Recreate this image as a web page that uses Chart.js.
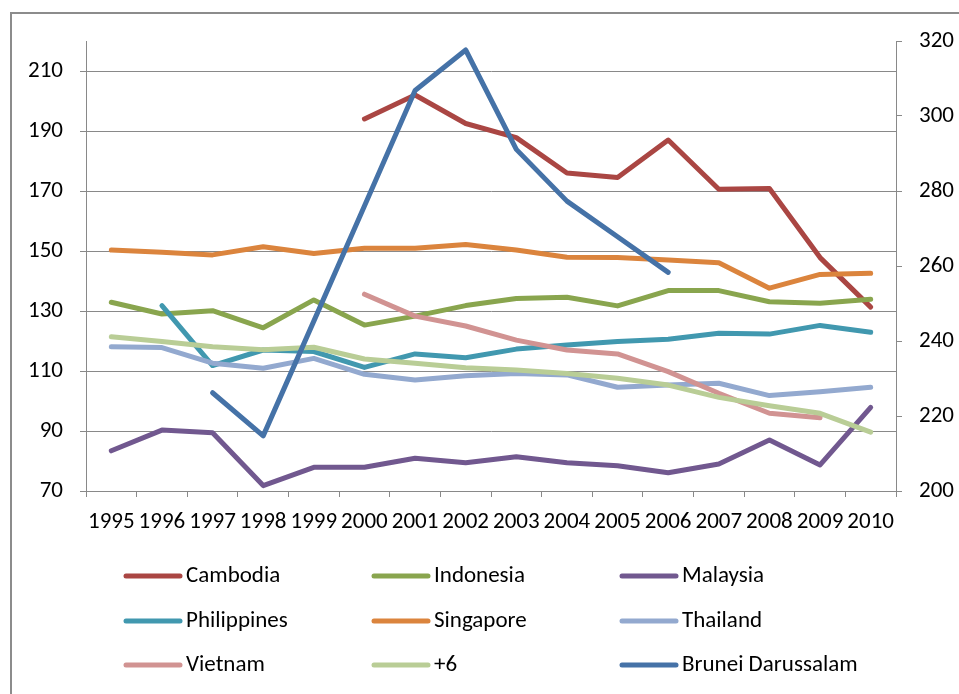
<!DOCTYPE html>
<html>
<head>
<meta charset="utf-8">
<script src="https://cdn.jsdelivr.net/npm/chart.js@4/dist/chart.umd.min.js"></script>
<style>
  html, body { margin: 0; padding: 0; background: #fff; }
  #wrap { position: relative; width: 959px; height: 694px; overflow: hidden; }
  #frame { position: absolute; left: 10px; top: 12px; width: 1200px; height: 1000px;
           border: 2px solid #8c8c8c; box-sizing: border-box; pointer-events: none; }
  canvas { position: absolute; left: 0; top: 0; }
</style>
</head>
<body>
<div id="wrap">
  <canvas id="chart" width="959" height="694"></canvas>
  <div id="frame"></div>
</div>
<script>
// categories
const years = ['1995','1996','1997','1998','1999','2000','2001','2002',
               '2003','2004','2005','2006','2007','2008','2009','2010'];

// series (left axis)
const cambodia    = [null, null, null, null, null, 194.0, 202.0, 192.5, 187.8, 176.0, 174.5, 187.0, 170.6, 170.8, 147.8, 131.3];
const indonesia   = [132.9, 129.0, 130.1, 124.4, 133.7, 125.3, 128.3, 131.8, 134.2, 134.6, 131.7, 136.8, 136.8, 133.1, 132.6, 133.9];
const malaysia    = [83.4, 90.3, 89.4, 71.8, 77.9, 77.9, 80.9, 79.4, 81.4, 79.4, 78.4, 76.1, 79.0, 87.0, 78.7, 97.9];
const philippines = [null, 131.8, 111.8, 117.0, 116.5, 111.2, 115.7, 114.4, 117.3, 118.7, 119.8, 120.6, 122.6, 122.3, 125.2, 122.9];
const singapore   = [150.3, 149.6, 148.7, 151.4, 149.2, 150.9, 150.9, 152.2, 150.3, 147.9, 147.8, 147.0, 146.1, 137.6, 142.2, 142.6];
const thailand    = [118.1, 117.8, 112.6, 110.9, 114.2, 108.9, 107.0, 108.4, 109.2, 108.7, 104.6, 105.3, 105.9, 101.8, 103.1, 104.6];
const vietnam     = [null, null, null, null, null, 135.6, 128.3, 125.0, 120.3, 117.0, 115.7, 109.8, 102.6, 95.9, 94.4, null];
const plus6       = [121.4, 119.8, 118.1, 117.1, 117.9, 114.0, 112.6, 111.1, 110.3, 109.2, 107.6, 105.3, 101.2, 98.4, 95.9, 89.6];
// series (right axis)
const brunei      = [null, null, 226.2, 214.7, 245.3, 276.0, 306.8, 317.6, 291.1, 277.3, 267.8, 258.3, null, null, null, null];

// tick labels
const leftTicks  = [70, 90, 110, 130, 150, 170, 190, 210];
const rightTicks = [200, 220, 240, 260, 280, 300, 320];
const leftMin = 70, leftMax = 220;
const rightMin = 200, rightMax = 320;

const series = [
  { label: 'Cambodia',          data: cambodia,    color: '#aa4643', axis: 'y'  },
  { label: 'Indonesia',         data: indonesia,   color: '#89a54e', axis: 'y'  },
  { label: 'Malaysia',          data: malaysia,    color: '#71588f', axis: 'y'  },
  { label: 'Philippines',       data: philippines, color: '#4198af', axis: 'y'  },
  { label: 'Singapore',         data: singapore,   color: '#db843d', axis: 'y'  },
  { label: 'Thailand',          data: thailand,    color: '#93a9cf', axis: 'y'  },
  { label: 'Vietnam',           data: vietnam,     color: '#d19392', axis: 'y'  },
  { label: '+6',                data: plus6,       color: '#b9cd96', axis: 'y'  },
  { label: 'Brunei Darussalam', data: brunei,      color: '#4572a7', axis: 'y2' }
];

const TICK_FONT = { family: 'Carlito, "Open Sans", sans-serif', size: 23 };
const LEGEND_FONT = '23px Carlito, "Open Sans", sans-serif';
const GRID = '#898989';

// legend drawn as a 3-column grid under the plot
const gridLegend = {
  id: 'gridLegend',
  afterDraw(chart) {
    const ctx = chart.ctx;
    const colX = [126, 374, 622];
    const rowY = [576, 621, 665];
    ctx.save();
    ctx.font = LEGEND_FONT;
    ctx.textBaseline = 'middle';
    ctx.fillStyle = '#000';
    chart.data.datasets.forEach((ds, i) => {
      const x = colX[i % 3], y = rowY[Math.floor(i / 3)];
      ctx.strokeStyle = ds.borderColor;
      ctx.lineWidth = 5;
      ctx.lineCap = 'round';
      ctx.beginPath();
      ctx.moveTo(x, y);
      ctx.lineTo(x + 54, y);
      ctx.stroke();
      ctx.fillText(ds.label, x + 60, y);
    });
    ctx.restore();
  }
};

new Chart(document.getElementById('chart'), {
  type: 'line',
  data: {
    labels: years,
    datasets: series.map((s, i) => ({
      label: s.label,
      data: s.data,
      yAxisID: s.axis,
      borderColor: s.color,
      backgroundColor: s.color,
      borderWidth: 5,
      borderCapStyle: 'round',
      borderJoinStyle: 'round',
      pointRadius: 0,
      tension: 0,
      spanGaps: false,
      order: series.length - i
    }))
  },
  options: {
    responsive: false,
    animation: false,
    devicePixelRatio: 1,
    layout: { padding: { top: 41, left: 0, right: 0, bottom: 0 } },
    plugins: { legend: { display: false }, tooltip: { enabled: false } },
    scales: {
      x: {
        offset: true,
        grid: { drawOnChartArea: false, drawTicks: true, tickLength: 6, color: GRID, offset: true },
        border: { display: true, color: GRID, width: 1 },
        ticks: { color: '#000', font: TICK_FONT, maxRotation: 0, autoSkip: false, padding: 11 },
        afterFit: (scale) => { scale.height = 203; }
      },
      y: {
        position: 'left',
        min: leftMin, max: leftMax,
        grid: { color: GRID, tickLength: 6, drawTicks: true },
        border: { display: true, color: GRID, width: 1 },
        ticks: { color: '#000', font: TICK_FONT, padding: 17 },
        afterBuildTicks: (scale) => { scale.ticks = leftTicks.map(v => ({ value: v })); },
        afterFit: (scale) => { scale.width = 86; }
      },
      y2: {
        position: 'right',
        min: rightMin, max: rightMax,
        grid: { drawOnChartArea: false, color: GRID, tickLength: 6, drawTicks: true },
        border: { display: true, color: GRID, width: 1 },
        ticks: { color: '#000', font: TICK_FONT, padding: 17 },
        afterBuildTicks: (scale) => { scale.ticks = rightTicks.map(v => ({ value: v })); },
        afterFit: (scale) => { scale.width = 63; }
      }
    }
  },
  plugins: [gridLegend]
});
</script>
</body>
</html>
